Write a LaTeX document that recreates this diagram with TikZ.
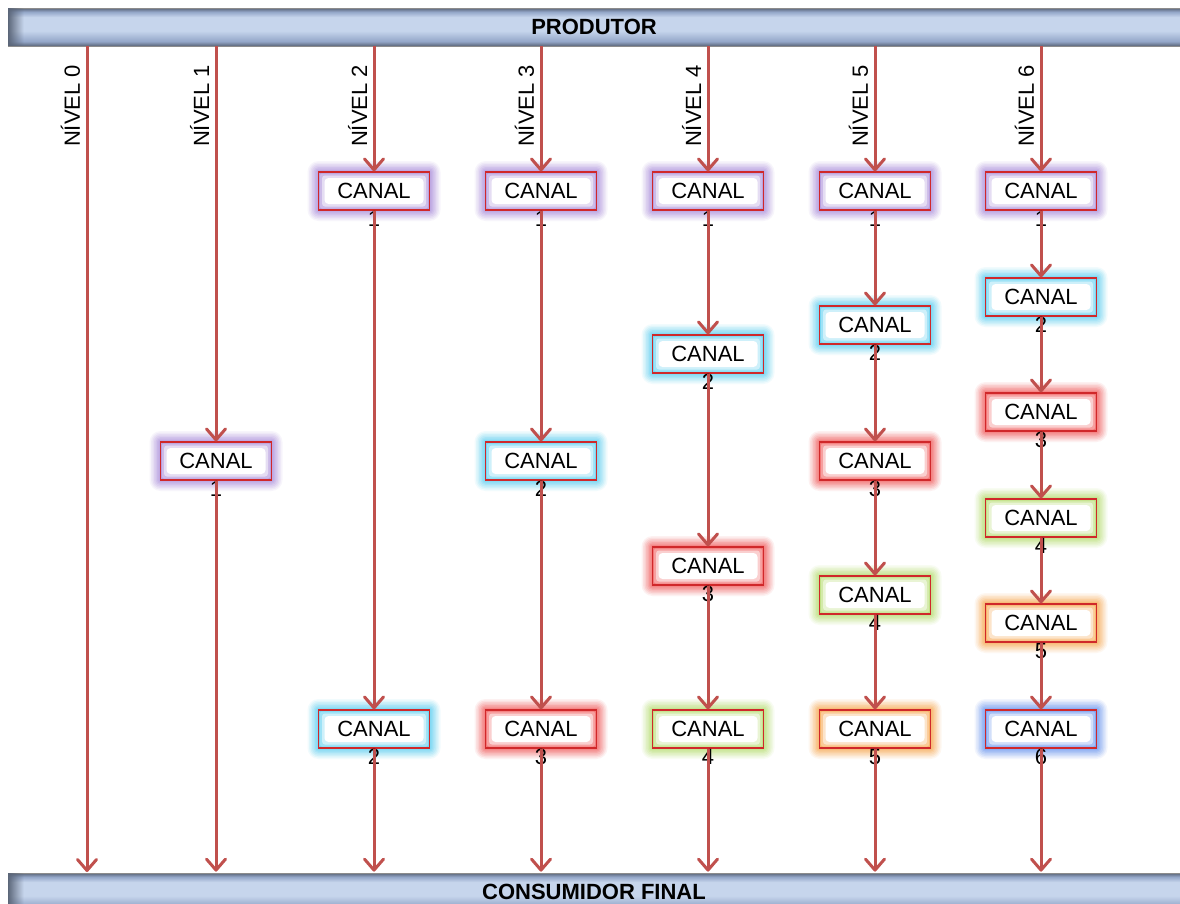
\documentclass[tikz,border=0pt]{standalone}
\usepackage{fontspec}
\setmainfont{Liberation Sans}
\usetikzlibrary{arrows.meta,fadings}
\definecolor{arrowred}{HTML}{C0504D}
\definecolor{boxred}{HTML}{D0282A}
\definecolor{gpurple}{HTML}{A586D8}
\definecolor{gcyan}{HTML}{4FCCF2}
\definecolor{gred}{HTML}{F25050}
\definecolor{ggreen}{HTML}{B0DA64}
\definecolor{gorange}{HTML}{F8A040}
\definecolor{gblue}{HTML}{5E8BF0}
\definecolor{b1}{HTML}{5A6578}
\definecolor{b2}{HTML}{93A6C8}
\definecolor{b3}{HTML}{C6D5EC}
\definecolor{barborder}{HTML}{8C8C8C}
\pgfdeclareverticalshading{barshade}{100bp}{color(0bp)=(b1); color(25bp)=(b1); color(31bp)=(b2); color(45bp)=(b3); color(63bp)=(b3); color(70bp)=(b2); color(75bp)=(b1); color(100bp)=(b1)}
\newcommand\canalbox[5]{% name, x, y, glow colour, number
  \foreach \gr/\go in {11/0.08,9.5/0.1,8/0.12,6.5/0.14,5/0.17,3.5/0.2,2/0.24,0.5/0.28}{
    \fill[#4, opacity=\go, rounded corners=\gr pt] (#2-55.5-\gr, #3-19-\gr) rectangle (#2+55.5+\gr, #3+19+\gr);
  }
  \fill[white, opacity=0.3, rounded corners=2pt] (#2-54, #3-17.5) rectangle (#2+54, #3+17.5);
  \fill[white, opacity=0.5, rounded corners=3pt] (#2-52, #3-15.5) rectangle (#2+52, #3+15.5);
  \fill[white, rounded corners=4pt] (#2-49.5, #3-13) rectangle (#2+49.5, #3+13);
  \node[cbox] (#1) at (#2,#3) {CANAL};
  \node[numlab] (#1n) at ([yshift=-8.5pt]#1.south) {#5};
}
\tikzset{
  bar/.style={shading=barshade, draw=barborder, line width=0.8pt, minimum width=1172pt, minimum height=38pt, inner sep=0pt, font=\fontsize{22}{26}\selectfont\bfseries},
  cbox/.style={draw=boxred, line width=1.2pt, minimum width=111pt, minimum height=38pt, inner sep=0pt, font=\fontsize{22}{26}\selectfont},
  numlab/.style={inner sep=0pt, font=\fontsize{22}{26}\selectfont},
  nivel/.style={rotate=90, inner sep=0pt, font=\fontsize{22}{26}\selectfont},
  arr/.style={draw=arrowred, line width=3pt, -{Straight Barb[length=11pt, width=19pt, line join=round, line cap=round]}}
}
\begin{document}
\begin{tikzpicture}[x=1pt, y=-1pt]
\useasboundingbox[fill=white] (0,0) rectangle (1180,903);
% bars
\node[bar] (prod) at (594,27) {\raisebox{-3pt}{PRODUTOR}};
\node[bar] (cons) at (594,892) {CONSUMIDOR FINAL};
\fill[b1, path fading=east] (prod.north west) rectangle ([xshift=16pt]prod.south west);
\fill[b1, path fading=east] (cons.north west) rectangle ([xshift=16pt]cons.south west);
% level labels
\node[nivel] (n0) at (70.5,106) {NÍVEL 0};
\node[nivel] (n1) at (199.5,106) {NÍVEL 1};
\node[nivel] (n2) at (357.5,106) {NÍVEL 2};
\node[nivel] (n3) at (524.5,106) {NÍVEL 3};
\node[nivel] (n4) at (691.5,106) {NÍVEL 4};
\node[nivel] (n5) at (858.5,106) {NÍVEL 5};
\node[nivel] (n6) at (1024.5,106) {NÍVEL 6};
% boxes
\canalbox{c1-1}{216}{461}{gpurple}{1}
\canalbox{c2-1}{374}{191}{gpurple}{1}
\canalbox{c2-2}{374}{729}{gcyan}{2}
\canalbox{c3-1}{541}{191}{gpurple}{1}
\canalbox{c3-2}{541}{461}{gcyan}{2}
\canalbox{c3-3}{541}{729}{gred}{3}
\canalbox{c4-1}{708}{191}{gpurple}{1}
\canalbox{c4-2}{708}{354}{gcyan}{2}
\canalbox{c4-3}{708}{566}{gred}{3}
\canalbox{c4-4}{708}{729}{ggreen}{4}
\canalbox{c5-1}{875}{191}{gpurple}{1}
\canalbox{c5-2}{875}{325}{gcyan}{2}
\canalbox{c5-3}{875}{461}{gred}{3}
\canalbox{c5-4}{875}{595}{ggreen}{4}
\canalbox{c5-5}{875}{729}{gorange}{5}
\canalbox{c6-1}{1041}{191}{gpurple}{1}
\canalbox{c6-2}{1041}{297}{gcyan}{2}
\canalbox{c6-3}{1041}{412}{gred}{3}
\canalbox{c6-4}{1041}{518}{ggreen}{4}
\canalbox{c6-5}{1041}{623}{gorange}{5}
\canalbox{c6-6}{1041}{729}{gblue}{6}
% level 0
\coordinate (t0) at (87,46);
\coordinate (b0) at (87,872);
\draw[arr] (t0) -- (b0);
% level 1
\draw[arr] (prod.south -| c1-1.north) -- (c1-1.north);
\draw[arr] (c1-1.south) -- ([yshift=1pt]cons.north -| c1-1.south);
% level 2
\draw[arr] (prod.south -| c2-1.north) -- (c2-1.north);
\draw[arr] (c2-1.south) -- (c2-2.north);
\draw[arr] (c2-2.south) -- ([yshift=1pt]cons.north -| c2-2.south);
% level 3
\draw[arr] (prod.south -| c3-1.north) -- (c3-1.north);
\draw[arr] (c3-1.south) -- (c3-2.north);
\draw[arr] (c3-2.south) -- (c3-3.north);
\draw[arr] (c3-3.south) -- ([yshift=1pt]cons.north -| c3-3.south);
% level 4
\draw[arr] (prod.south -| c4-1.north) -- (c4-1.north);
\draw[arr] (c4-1.south) -- (c4-2.north);
\draw[arr] (c4-2.south) -- (c4-3.north);
\draw[arr] (c4-3.south) -- (c4-4.north);
\draw[arr] (c4-4.south) -- ([yshift=1pt]cons.north -| c4-4.south);
% level 5
\draw[arr] (prod.south -| c5-1.north) -- (c5-1.north);
\draw[arr] (c5-1.south) -- (c5-2.north);
\draw[arr] (c5-2.south) -- (c5-3.north);
\draw[arr] (c5-3.south) -- (c5-4.north);
\draw[arr] (c5-4.south) -- (c5-5.north);
\draw[arr] (c5-5.south) -- ([yshift=1pt]cons.north -| c5-5.south);
% level 6
\draw[arr] (prod.south -| c6-1.north) -- (c6-1.north);
\draw[arr] (c6-1.south) -- (c6-2.north);
\draw[arr] (c6-2.south) -- (c6-3.north);
\draw[arr] (c6-3.south) -- (c6-4.north);
\draw[arr] (c6-4.south) -- (c6-5.north);
\draw[arr] (c6-5.south) -- (c6-6.north);
\draw[arr] (c6-6.south) -- ([yshift=1pt]cons.north -| c6-6.south);
\end{tikzpicture}
\end{document}
